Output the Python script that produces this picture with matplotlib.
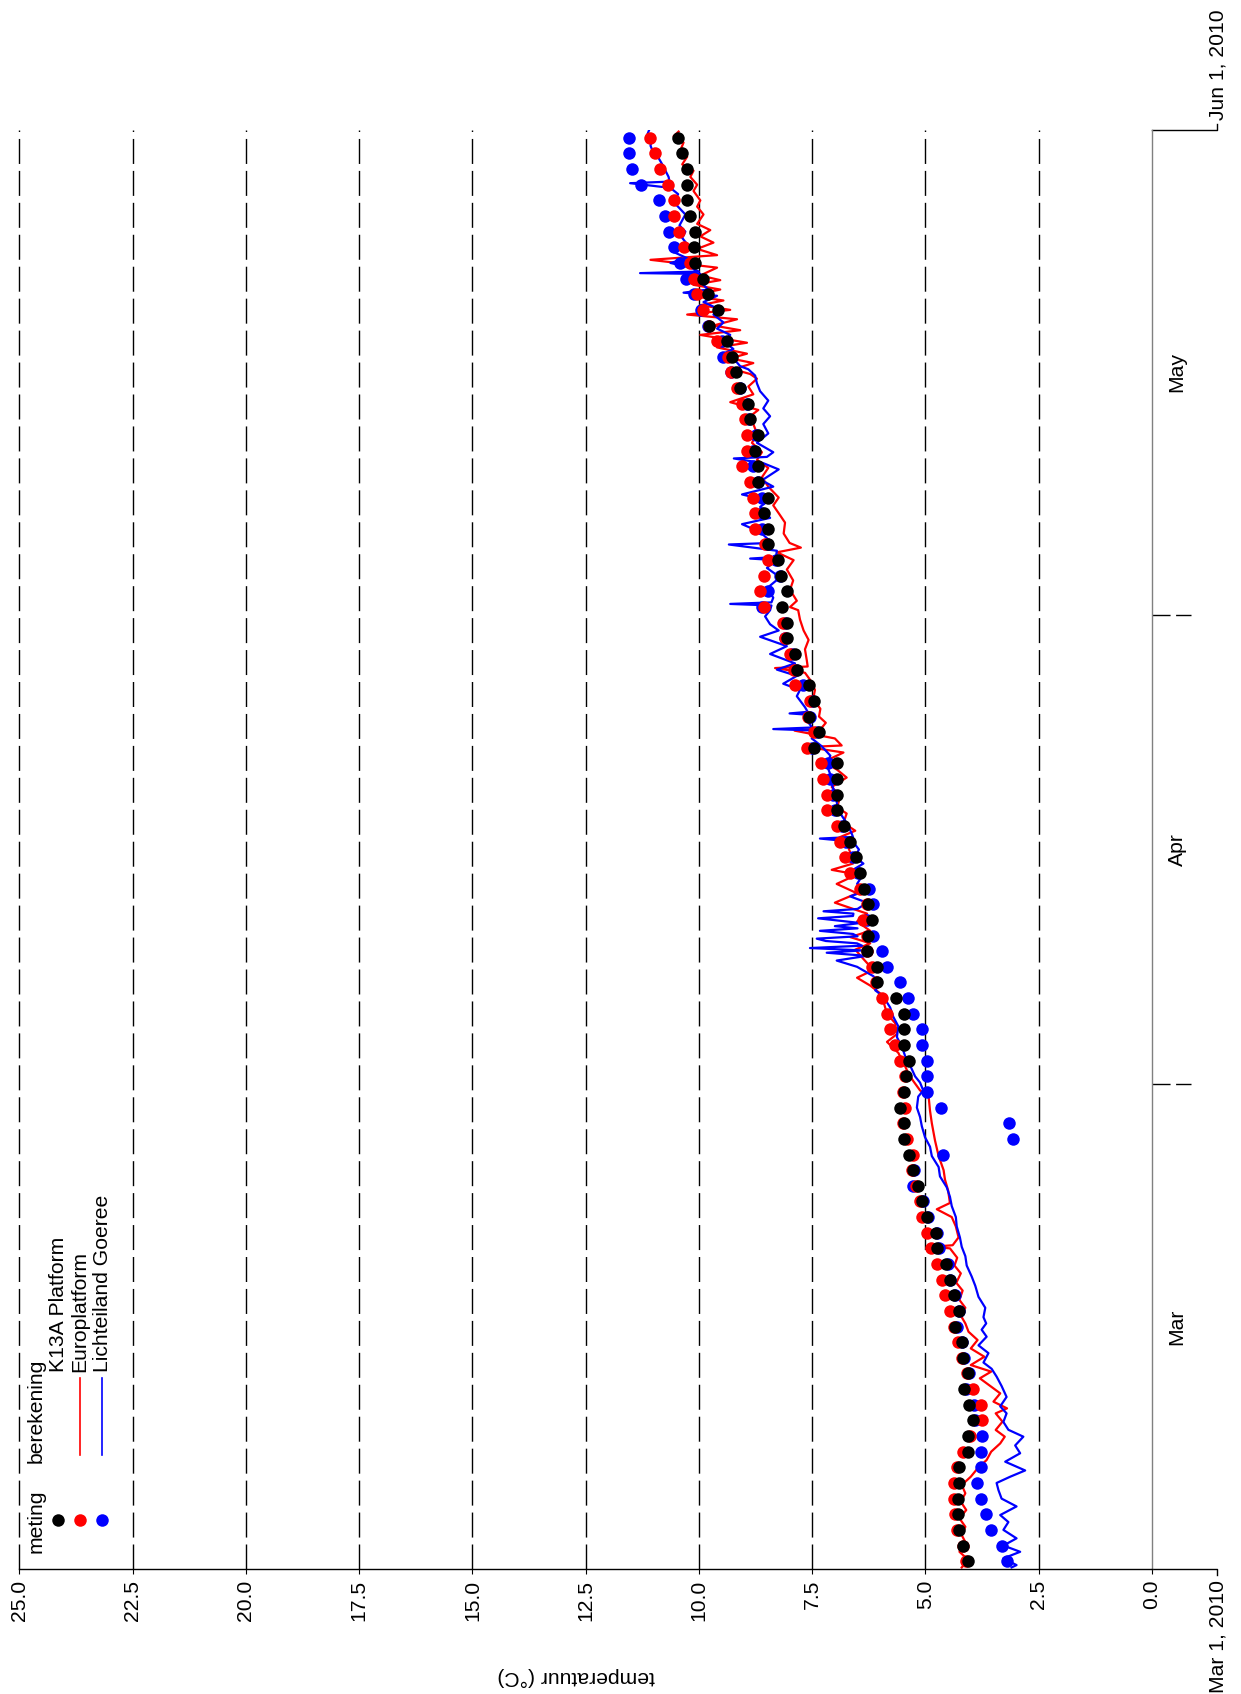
import numpy as np
import matplotlib
matplotlib.use('Agg')
import matplotlib.pyplot as plt

plt.rcParams['font.family'] = ['Liberation Sans', 'DejaVu Sans']
plt.rcParams['font.size'] = 15.2

# dag sinds 1 maart 2010 (meting: dagwaarde om 12:00)
meting_dagen = np.arange(92) + 0.5

k13a_meting = [4.07, 4.18, 4.26, 4.29, 4.29, 4.27, 4.26, 4.07, 4.07, 3.96, 4.05, 4.16, 4.07, 4.18, 4.19,
               4.35, 4.27, 4.37, 4.46, 4.55, 4.75, 4.77, 4.97, 5.07, 5.17, 5.27, 5.36, 5.47, 5.47, 5.56,
               5.47, 5.42, 5.36, 5.47, 5.47, 5.47, 5.66, 6.07, 6.07, 6.28, 6.26, 6.18, 6.26, 6.35, 6.44, 6.54,
               6.66, 6.80, 6.95, 6.95, 6.95, 6.95, 7.47, 7.36, 7.57, 7.47, 7.58, 7.84, 7.88, 8.06, 8.06,
               8.17, 8.06, 8.19, 8.26, 8.47, 8.48, 8.57, 8.48, 8.69, 8.69, 8.76, 8.69, 8.87, 8.91, 9.09,
               9.18, 9.27, 9.38, 9.77, 9.58, 9.79, 9.90, 10.08, 10.12, 10.08, 10.19, 10.26, 10.26, 10.26, 10.37, 10.46]

euro_meting = [4.10, 4.18, 4.31, 4.35, 4.36, 4.36, 4.30, 4.17, 4.02, 3.76, 3.78, 3.96, 4.09, 4.20, 4.28,
               4.38, 4.46, 4.56, 4.64, 4.75, 4.88, 4.97, 5.07, 5.12, 5.20, 5.30, 5.27, 5.40, 5.50, 5.45,
               5.50, 5.45, 5.56, 5.67, 5.78, 5.85, 5.95, 6.10, 6.18, 6.30, 6.30, 6.37, 6.30, 6.45, 6.66, 6.77,
               6.88, 6.95, 7.17, 7.17, 7.27, 7.30, 7.62, 7.45, 7.60, 7.55, 7.88, 7.90, 7.99, 8.10, 8.15,
               8.57, 8.65, 8.57, 8.47, 8.55, 8.76, 8.76, 8.80, 8.87, 9.06, 8.94, 8.94, 8.98, 9.06, 9.16,
               9.29, 9.35, 9.60, 9.78, 9.90, 10.04, 10.12, 10.20, 10.34, 10.45, 10.56, 10.56, 10.69, 10.87, 10.96, 11.07]

goeree_meting = [3.20, 3.30, 3.56, 3.67, 3.77, 3.87, 3.77, 3.78, 3.76, 3.90, 3.92, 4.10, 4.05, 4.15, 4.20,
                 4.30, 4.25, 4.35, 4.45, 4.50, 4.70, 4.75, 4.95, 5.05, 5.28, 5.25, 4.62, 3.06, 3.15, 4.66,
                 4.97, 4.97, 4.97, 5.07, 5.07, 5.27, 5.38, 5.56, 5.86, 5.95, 6.15, 6.30, 6.15, 6.24, 6.50, 6.60,
                 6.75, 6.85, 7.00, 7.05, 7.10, 7.15, 7.50, 7.40, 7.55, 7.50, 7.70, 7.85, 7.95, 8.10, 8.10,
                 8.60, 8.47, 8.22, 8.30, 8.50, 8.60, 8.60, 8.60, 8.70, 8.80, 8.80, 8.75, 8.90, 8.95, 9.10,
                 9.30, 9.46, 9.50, 9.80, 9.95, 10.12, 10.29, 10.41, 10.56, 10.67, 10.76, 10.88, 11.28, 11.47, 11.55, 11.55]

# berekening Europlatform
euro_dagen = [0.1, 0.57, 1.1, 1.6, 2.17, 2.7, 3.24, 3.77, 4.3, 4.84, 5.37, 5.9, 6.43, 6.97, 7.5, 8.03, 8.46,
              8.89, 9.42, 9.95, 10.27, 10.7, 11.23, 11.76, 12.19, 12.62, 13.04, 13.57, 14.1, 14.64, 15.17,
              15.7, 16.2, 16.7, 17.2, 17.8, 18.3, 18.9, 19.4, 19.9, 20.5, 20.6, 20.7, 21.2, 21.9, 22.5, 23.0,
              23.4, 24.2, 24.9, 25.5, 26.4, 27.4, 28.5, 29.3, 30.2,
              30.6, 31.2, 31.7, 32.4, 33.0, 33.7, 34.2, 34.9, 35.5, 36.2, 36.8, 37.3, 37.8, 38.3, 39.0, 39.6,
              40.0, 40.4, 40.8, 41.4, 41.9, 42.6, 43.2, 43.8, 44.4, 44.7, 45.1, 45.5,
              45.8, 46.4, 46.8, 47.2, 47.7, 48.3, 48.7, 49.4, 50.0, 50.6, 51.1, 51.6, 52.2, 52.55, 52.65, 53.1,
              53.6, 53.75, 54.1, 54.5, 55.0, 55.6, 56.2, 56.7, 57.3, 57.6, 57.7, 58.1, 58.8, 59.4, 60.0, 60.7, 61.3,
              61.5, 61.9, 62.6, 63.2, 63.9, 64.5, 65.0, 65.3, 65.6, 66.2, 66.9, 67.5, 68.0, 68.5, 69.2, 69.8,
              70.4, 70.9, 71.4, 72.0, 72.6, 73.2, 73.7, 74.1, 74.6, 75.1, 75.6, 76.1,
              76.4, 76.7, 77.1, 77.4, 77.7, 78.1, 78.4, 78.9, 79.2, 79.5, 79.9, 80.2, 80.5, 80.8, 81.1, 81.4,
              81.8, 82.1, 82.4, 82.7, 83.2, 83.7, 84.0, 84.4, 84.8, 85.2, 85.6, 86.0, 86.6, 87.1, 87.5, 88.1,
              88.5, 89.0, 89.4, 89.8, 90.3, 90.7, 91.2, 91.6, 91.9]
euro_temp = [4.20, 4.05, 4.25, 4.10, 4.20, 4.12, 4.25, 4.10, 4.22, 4.12, 4.20, 4.00, 3.85, 3.65, 3.55, 3.35, 3.25,
             3.45, 3.30, 3.45, 3.20, 3.50, 3.35, 3.60, 3.80, 3.55, 4.00, 3.70, 4.00, 3.85, 4.05,
             4.12, 4.22, 4.12, 4.25, 4.18, 4.32, 4.22, 4.36, 4.30, 4.46, 4.85, 4.40, 4.27, 4.33, 4.42, 4.75,
             4.46, 4.50, 4.57, 4.60, 4.71, 4.79, 4.86, 4.90, 4.93,
             5.12, 5.27, 5.38, 5.49, 5.60, 5.85, 5.63, 5.67, 5.85, 5.92, 6.00, 6.22, 6.51, 6.15, 6.37, 6.55,
             6.22, 6.66, 6.22, 6.51, 6.29, 7.00, 6.51, 6.96, 6.51, 7.07, 6.60, 6.81,
             6.66, 6.74, 6.88, 6.55, 6.81, 6.74, 6.95, 6.88, 7.07, 6.74, 6.95, 7.25, 6.81, 7.60, 6.85, 7.00,
             7.89, 7.30, 7.20, 7.35, 7.32, 7.48, 7.44, 7.51, 7.66, 8.32, 7.60, 7.62, 7.66, 7.58, 7.69, 7.77, 7.81,
             7.99, 7.84, 7.99, 7.92, 8.06, 7.91, 8.28, 7.75, 8.00, 8.13, 8.10, 8.24, 8.36, 8.24, 8.47, 8.61,
             8.47, 8.72, 8.61, 8.83, 8.72, 8.80, 8.87, 8.69, 9.31, 8.80, 8.91, 8.72,
             8.87, 9.24, 8.80, 9.31, 8.94, 9.60, 8.94, 9.97, 9.09, 9.68, 9.16, 10.26, 9.31, 9.97, 9.46, 10.19,
             9.53, 10.12, 9.53, 9.97, 9.60, 11.07, 9.60, 10.04, 9.68, 9.97, 9.75, 10.04, 9.90, 10.04, 9.97, 10.12,
             10.04, 10.19, 10.12, 10.37, 10.26, 10.41, 10.34, 10.56, 10.45]

# berekening Lichteiland Goeree
goeree_dagen = [0.1, 0.25, 0.68, 1.1, 1.5, 1.96, 2.5, 3.0, 3.45, 4.0, 4.5, 5.05, 5.5, 5.9, 6.3, 6.86, 7.4,
                7.9, 8.46, 8.9, 9.4, 9.95, 10.4, 11.0, 11.7, 12.3, 12.8, 13.2, 13.8, 14.3, 14.85, 15.3,
                15.7, 16.1, 16.7, 17.4, 18.1, 18.7, 19.4, 20.0, 20.6, 21.2, 21.9, 22.5, 23.2, 23.8, 24.4, 25.1,
                25.7, 26.4, 27.0, 27.6, 28.3, 28.9, 29.5, 30.2,
                30.6, 31.1, 31.5, 32.2, 32.8, 33.4, 34.0, 34.7, 35.3, 35.9, 36.6, 37.0, 37.4, 37.9, 38.5, 38.9,
                39.2, 39.4, 39.55, 39.7, 39.85, 40.0, 40.15, 40.3, 40.45, 40.6, 40.8, 40.96, 41.1, 41.3, 41.6,
                41.75, 41.9, 42.05, 42.2, 42.6, 43.0, 43.4, 43.8, 44.3, 44.7, 45.1, 45.5, 46.0,
                46.5, 46.7, 46.8, 47.1, 47.7, 48.3, 48.9, 49.6, 50.2, 50.8, 51.4, 52.0, 52.6, 53.1, 53.6, 53.7,
                53.8, 54.1, 54.6, 54.7, 54.8, 55.1, 55.8, 56.2, 56.6, 57.1, 57.5, 57.9, 58.5, 59.0, 59.6, 60.0,
                60.4, 60.9, 61.3,
                61.6, 61.7, 61.8, 62.1, 62.7, 63.4, 64.0, 64.5, 64.6, 64.7, 65.1, 65.5, 65.6, 65.9, 66.3, 66.8,
                67.2, 67.9, 68.3, 68.7, 69.2, 69.6, 70.3, 70.7, 71.0, 71.1, 71.4, 72.0, 72.6, 73.2, 73.7, 74.2,
                74.7, 75.3, 75.8, 76.3, 76.7,
                76.9, 77.4, 77.6, 78.0, 78.5, 78.9, 79.3, 79.7, 80.2, 80.6, 81.0, 81.4, 81.6, 81.8, 82.1, 82.4,
                82.8, 82.85, 82.95, 83.2, 83.5, 83.8, 84.2, 84.7, 85.1, 85.5, 85.9, 86.6, 87.0, 87.4, 87.9, 88.3,
                88.6, 88.7, 89.0, 89.4, 89.8, 90.2, 90.5, 91.0, 91.4, 91.7, 92.0]
goeree_temp = [3.10, 2.99, 3.28, 2.91, 3.28, 2.99, 3.28, 3.17, 3.35, 2.99, 3.32, 3.39, 3.43, 3.13, 2.80, 3.24, 2.91,
               3.02, 2.84, 3.17, 3.28, 3.21, 3.35, 3.21, 3.32, 3.43, 3.54, 3.72, 3.61, 3.83, 3.65, 3.76,
               3.66, 3.72, 3.68, 3.83, 3.90, 3.98, 4.09, 4.12, 4.20, 4.24, 4.31, 4.33, 4.42, 4.46, 4.53, 4.68,
               4.71, 4.86, 4.90, 5.01, 5.08, 5.12, 5.19, 5.16,
               5.05, 5.12, 5.23, 5.34, 5.45, 5.52, 5.63, 5.60, 5.71, 5.78, 5.93, 6.11, 6.00, 6.15, 6.51, 6.96,
               6.30, 7.18, 6.40, 7.55, 6.40, 6.51, 7.20, 7.40, 6.50, 6.60, 7.33, 6.50, 7.00, 6.44, 7.37,
               6.60, 6.59, 7.25, 6.50, 6.29, 6.66, 6.29, 6.51, 6.40, 6.60, 6.37, 6.55, 6.47,
               6.60, 7.33, 6.60, 6.64, 6.74, 6.88, 6.95, 7.00, 7.07, 7.10, 7.18, 7.10, 7.29, 7.51, 7.40, 8.36,
               7.50, 7.58, 7.50, 8.00, 7.60, 7.66, 7.84, 7.77, 8.14, 7.84, 8.28, 7.88, 8.43, 8.06, 8.65, 8.24,
               8.43, 8.54, 8.43,
               8.40, 9.31, 8.40, 8.36, 8.50, 8.21, 8.50, 8.30, 8.87, 8.30, 8.28, 9.34, 8.40, 8.50, 8.65, 9.05,
               8.43, 8.65, 8.47, 9.05, 8.36, 8.61, 8.24, 8.58, 9.23, 8.50, 8.36, 8.72, 8.47, 8.58, 8.43, 8.58,
               8.47, 8.65, 8.72, 8.76, 8.91,
               9.09, 9.24, 9.53, 9.24, 9.46, 9.31, 9.60, 9.46, 9.68, 9.60, 9.90, 9.60, 10.34, 9.80, 9.90, 10.01,
               9.97, 11.30, 10.00, 10.19, 10.63, 10.26, 10.56, 10.26, 10.37, 10.30, 10.43, 10.30, 10.43, 10.56, 10.46, 10.63,
               11.52, 10.65, 10.67, 10.74, 10.81, 10.89, 11.00, 11.07, 11.03, 11.14, 11.10]

temp_ticks = np.arange(0, 25.1, 2.5)
maand_grenzen = [0, 31, 61, 92]
maanden = ['Mar', 'Apr', 'May']

W, H = 1241, 1694
fig = plt.figure(figsize=(W / 100, H / 100), dpi=100)

# assen: temperatuur horizontaal (omgekeerd), datum verticaal
x0, x1, y0, y1 = 19.4, 1152.0, 130.0, 1569.0
ax = fig.add_axes([x0 / W, 1 - y1 / H, (x1 - x0) / W, (y1 - y0) / H])
ax.set_xlim(25, 0)
ax.set_ylim(maand_grenzen[0], maand_grenzen[-1])

for t in temp_ticks[1:]:
    ax.axvline(t, color='k', lw=1.0, linestyle=(0, (18, 5)), zorder=0, clip_on=False)

ax.plot(euro_temp, euro_dagen, color='#ff0000', lw=1.6, zorder=2)
ax.plot(goeree_temp, goeree_dagen, color='#0000ff', lw=1.6, zorder=2)
ax.plot(goeree_meting, meting_dagen, 'o', color='#0000ff', ms=9, mew=0, zorder=3)
ax.plot(euro_meting, meting_dagen, 'o', color='#ff0000', ms=9, mew=0, zorder=4)
ax.plot(k13a_meting, meting_dagen, 'o', color='black', ms=9, mew=0, zorder=5)

ax.set_xticks(temp_ticks)
ax.set_xticklabels(['%.1f' % t for t in temp_ticks])
ax.tick_params(axis='x', direction='out', length=3.6, width=0.8, pad=4.3, labelrotation=90)
ax.set_yticks([])

for s in ['left', 'top']:
    ax.spines[s].set_visible(False)
ax.spines['right'].set_color('#808080')
ax.spines['right'].set_linewidth(1.0)
ax.spines['bottom'].set_linewidth(1.0)

# datum-as rechts
trans = ax.get_yaxis_transform()
ext = 65 / (x1 - x0)
kort = 39 / (x1 - x0)
dag_px = (y1 - y0) / maand_grenzen[-1]
for d in maand_grenzen[1:-1]:
    ax.plot([1, 1 + kort], [d, d], transform=trans, color='k', lw=1.0,
            linestyle=(0, (13, 4)), clip_on=False)
for d, richting in [(maand_grenzen[0], -1), (maand_grenzen[-1], 1)]:
    ax.plot([1, 1 + ext, 1 + ext], [d, d, d + richting * 6 / dag_px], transform=trans,
            color='k', lw=1.0, clip_on=False)
for i, m in enumerate(maanden):
    mid = (maand_grenzen[i] + maand_grenzen[i + 1]) / 2
    ax.text(1 + 25 / (x1 - x0), mid, m, transform=trans, rotation=90, ha='center', va='center')
ax.annotate('Mar 1, 2010', xy=(1 + 66 / (x1 - x0), maand_grenzen[0]), xycoords=trans,
            xytext=(0, -8), textcoords='offset points', rotation=90, ha='center', va='top')
ax.annotate('Jun 1, 2010', xy=(1 + 66 / (x1 - x0), maand_grenzen[-1]), xycoords=trans,
            xytext=(0, 7.5), textcoords='offset points', rotation=90, ha='center', va='bottom')

ax.text(0.492, -0.075, 'temperatuur (°C)', transform=ax.transAxes, rotation=180,
        ha='center', va='center')

# legenda (gedraaid)
def fx(px):
    return px / W


def fy(py):
    return 1 - py / H


fig.text(fx(36), fy(1553), 'meting', rotation=90, ha='center', va='bottom')
fig.text(fx(36), fy(1463), 'berekening', rotation=90, ha='center', va='bottom')
namen = ['K13A Platform', 'Europlatform', 'Lichteiland Goeree']
kleuren = ['black', '#ff0000', '#0000ff']
for xp, naam, kl in zip([58, 80, 102], namen, kleuren):
    fig.text(fx(xp), fy(1372), naam, rotation=90, ha='center', va='bottom')
    fig.add_artist(plt.Line2D([fx(xp)], [fy(1520)], marker='o', color=kl, ms=9, mew=0,
                              transform=fig.transFigure))
    if naam != 'K13A Platform':
        fig.add_artist(plt.Line2D([fx(xp), fx(xp)], [fy(1378), fy(1455)], color=kl, lw=1.2,
                                  transform=fig.transFigure))

fig.savefig('out.png', dpi=100)
